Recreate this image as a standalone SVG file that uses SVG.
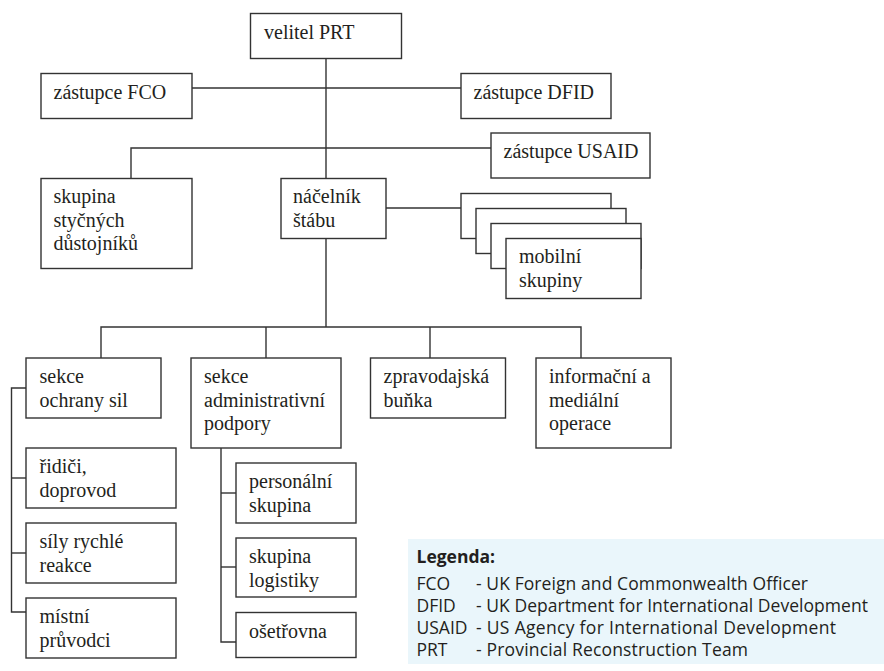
<svg xmlns="http://www.w3.org/2000/svg" width="884" height="671" viewBox="0 0 884 671">
<style>
  .box { fill: #ffffff; stroke: #333333; stroke-width: 1.4; }
  .ln { fill: none; stroke: #333333; stroke-width: 1.4; }
  .t { font-family: 'Liberation Serif', 'Times New Roman', serif; font-size: 20px; fill: #231f20; }
  .lg { font-family: 'Open Sans', 'Noto Sans', sans-serif; font-size: 17.5px; fill: #231f20; }
  .lgb { font-family: 'Open Sans', 'Noto Sans', sans-serif; font-size: 17.5px; font-weight: bold; fill: #231f20; }
</style>
<rect width="884" height="671" fill="#ffffff"/>

<g id="legend">
  <rect x="408" y="539" width="476" height="125" fill="#eaf6fb"/>
  <text class="lgb" x="416.5" y="563">Legenda:</text>
  <text class="lg" x="416.5" y="589.5">FCO</text>
  <text class="lg" x="476" y="589.5" textLength="332">- UK Foreign and Commonwealth Officer</text>
  <text class="lg" x="416.5" y="611.5">DFID</text>
  <text class="lg" x="476" y="611.5" textLength="392">- UK Department for International Development</text>
  <text class="lg" x="416.5" y="633.5">USAID</text>
  <text class="lg" x="476" y="633.5" textLength="360">- US Agency for International Development</text>
  <text class="lg" x="416.5" y="655.5">PRT</text>
  <text class="lg" x="476" y="655.5" textLength="272">- Provincial Reconstruction Team</text>
</g>

<g id="connectors">
  <path class="ln" d="M326,58 V178"/>
  <path class="ln" d="M192,88 H461"/>
  <path class="ln" d="M131,178 V148 H491"/>
  <path class="ln" d="M386,208 H461"/>
  <path class="ln" d="M326,238 V327"/>
  <path class="ln" d="M101,358 V327 H581 V358"/>
  <path class="ln" d="M266,327 V358"/>
  <path class="ln" d="M430,327 V358"/>
  <path class="ln" d="M26,388 H11.5 V612 H26"/>
  <path class="ln" d="M11.5,478 H26"/>
  <path class="ln" d="M11.5,553 H26"/>
  <path class="ln" d="M221,448 V642 H236"/>
  <path class="ln" d="M221,493 H236"/>
  <path class="ln" d="M221,567 H236"/>
</g>

<g id="velitel">
  <rect class="box" x="250.5" y="13.5" width="151" height="45"/>
  <text class="t" x="264" y="38.5">velitel PRT</text>
</g>
<g id="fco">
  <rect class="box" x="41" y="73.5" width="151" height="45"/>
  <text class="t" x="53.5" y="98.5">zástupce FCO</text>
</g>
<g id="dfid">
  <rect class="box" x="461" y="73.5" width="150" height="45"/>
  <text class="t" x="473.5" y="98.5">zástupce DFID</text>
</g>
<g id="usaid">
  <rect class="box" x="491" y="133" width="159" height="45"/>
  <text class="t" x="503.5" y="158">zástupce USAID</text>
</g>
<g id="skupina-stycnych">
  <rect class="box" x="41" y="178.5" width="151" height="90"/>
  <text class="t" x="53.5" y="203">skupina</text>
  <text class="t" x="53.5" y="226.5">styčných</text>
  <text class="t" x="53.5" y="250">důstojníků</text>
</g>
<g id="nacelnik">
  <rect class="box" x="281" y="178.5" width="105" height="60"/>
  <text class="t" x="293" y="203">náčelník</text>
  <text class="t" x="293" y="226.5">štábu</text>
</g>
<g id="mobilni">
  <rect class="box" x="461" y="193.5" width="150" height="45"/>
  <rect class="box" x="476" y="208.5" width="150" height="45"/>
  <rect class="box" x="491" y="223.5" width="150" height="45"/>
  <rect class="box" x="506" y="238.5" width="135" height="60"/>
  <text class="t" x="519" y="263">mobilní</text>
  <text class="t" x="519" y="286.5">skupiny</text>
</g>
<g id="sekce-ochrany">
  <rect class="box" x="26" y="358" width="135" height="60"/>
  <text class="t" x="39.5" y="383">sekce</text>
  <text class="t" x="39.5" y="406.5">ochrany sil</text>
</g>
<g id="sekce-admin">
  <rect class="box" x="191" y="358" width="150" height="90"/>
  <text class="t" x="204" y="383">sekce</text>
  <text class="t" x="204" y="406.5">administrativní</text>
  <text class="t" x="204" y="430">podpory</text>
</g>
<g id="zpravodajska">
  <rect class="box" x="370.5" y="358" width="135" height="60"/>
  <text class="t" x="383.5" y="383">zpravodajská</text>
  <text class="t" x="383.5" y="406.5">buňka</text>
</g>
<g id="informacni">
  <rect class="box" x="536" y="358" width="135" height="90"/>
  <text class="t" x="549" y="383">informační a</text>
  <text class="t" x="549" y="406.5">mediální</text>
  <text class="t" x="549" y="430">operace</text>
</g>
<g id="ridici">
  <rect class="box" x="26" y="448" width="150" height="60"/>
  <text class="t" x="39.5" y="473">řidiči,</text>
  <text class="t" x="39.5" y="496.5">doprovod</text>
</g>
<g id="sily">
  <rect class="box" x="26" y="523" width="150" height="60"/>
  <text class="t" x="39.5" y="548">síly rychlé</text>
  <text class="t" x="39.5" y="571.5">reakce</text>
</g>
<g id="mistni">
  <rect class="box" x="26" y="598" width="150" height="60"/>
  <text class="t" x="39.5" y="623">místní</text>
  <text class="t" x="39.5" y="646.5">průvodci</text>
</g>
<g id="personalni">
  <rect class="box" x="236" y="463" width="120" height="60"/>
  <text class="t" x="249" y="488">personální</text>
  <text class="t" x="249" y="511.5">skupina</text>
</g>
<g id="logistiky">
  <rect class="box" x="236" y="538" width="120" height="59"/>
  <text class="t" x="249" y="563">skupina</text>
  <text class="t" x="249" y="586.5">logistiky</text>
</g>
<g id="osetrovna">
  <rect class="box" x="236" y="612.5" width="120" height="45"/>
  <text class="t" x="249" y="637.5">ošetřovna</text>
</g>
</svg>
